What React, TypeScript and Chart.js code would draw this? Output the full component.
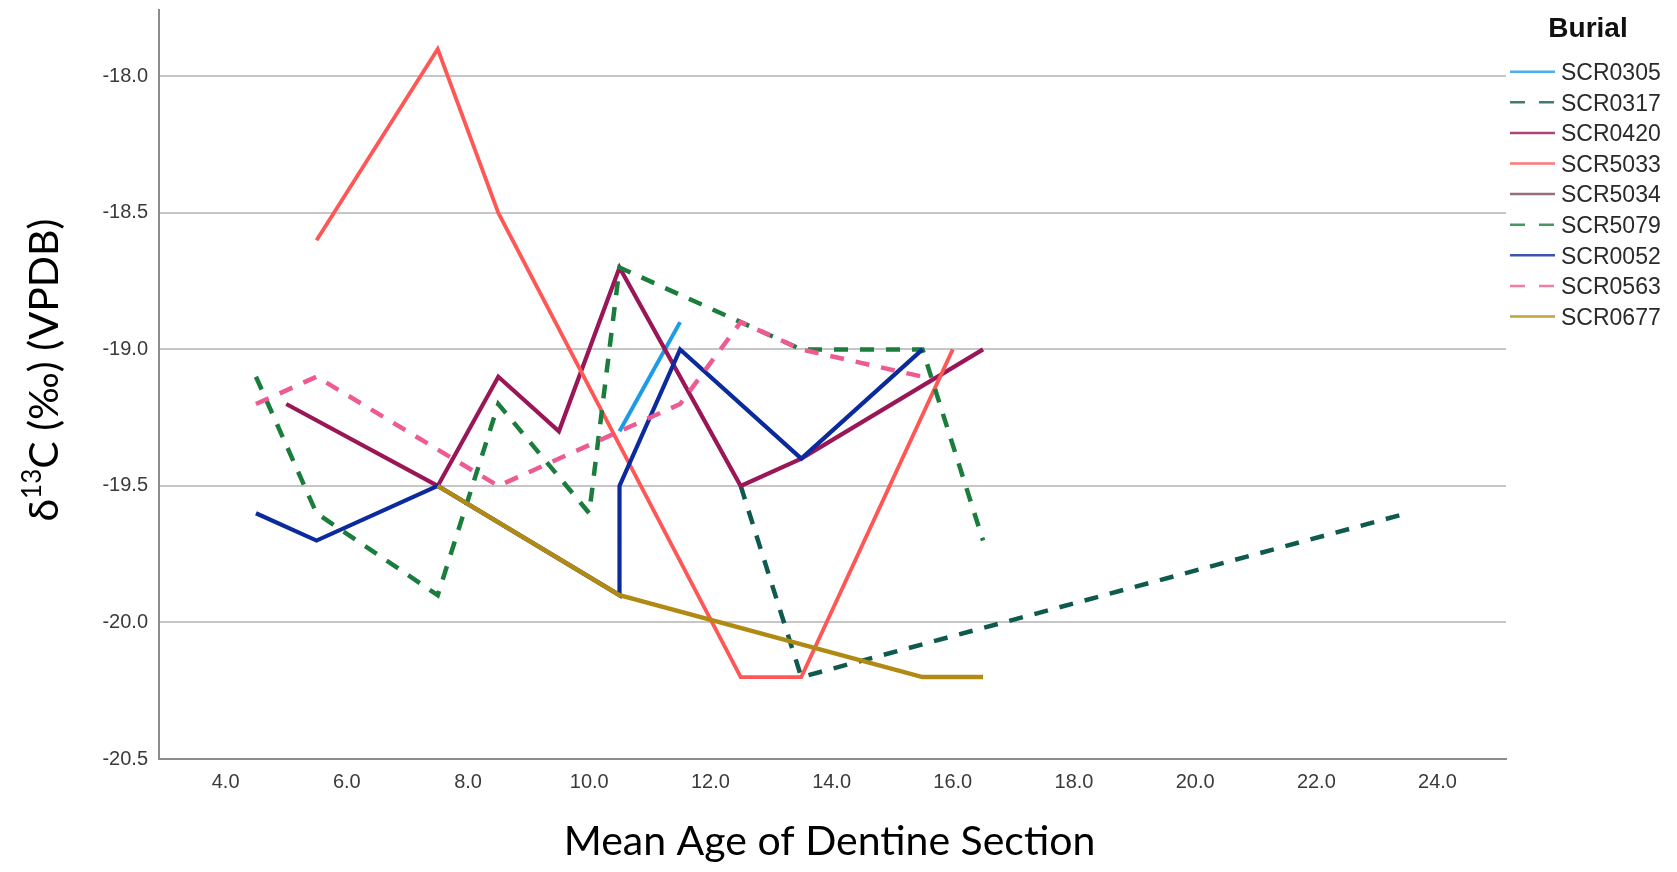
import React, { useEffect, useRef } from "react";
import { Chart, registerables } from "chart.js";

Chart.register(...registerables);

// ---- data ----
const burialNames = [
  "SCR0305",
  "SCR0317",
  "SCR0420",
  "SCR5033",
  "SCR5034",
  "SCR5079",
  "SCR0052",
  "SCR0563",
  "SCR0677",
];

const scr0305Age = [10.5, 11.5];
const scr0305C = [-19.3, -18.9];

const scr0317Age = [12.5, 13.5, 23.5];
const scr0317C = [-19.5, -20.2, -19.6];

const scr0420Age = [5.0, 7.5, 8.5, 9.5, 10.5, 12.5, 13.5, 16.5];
const scr0420C = [-19.2, -19.5, -19.1, -19.3, -18.7, -19.5, -19.4, -19.0];

const scr5033Age = [5.5, 7.5, 8.5, 12.5, 13.5, 16.0];
const scr5033C = [-18.6, -17.9, -18.5, -20.2, -20.2, -19.0];

const scr5034Age: number[] = [];
const scr5034C: number[] = [];

const scr5079Age = [4.5, 5.5, 7.5, 8.5, 10.0, 10.5, 13.5, 15.5, 16.5];
const scr5079C = [-19.1, -19.6, -19.9, -19.2, -19.6, -18.7, -19.0, -19.0, -19.7];

const scr0052Age = [4.5, 5.5, 7.5, 10.5, 10.5, 11.5, 13.5, 15.5];
const scr0052C = [-19.6, -19.7, -19.5, -19.9, -19.5, -19.0, -19.4, -19.0];

const scr0563Age = [4.5, 5.5, 8.5, 11.5, 12.5, 13.5, 15.5];
const scr0563C = [-19.2, -19.1, -19.5, -19.2, -18.9, -19.0, -19.1];

const scr0677Age = [7.5, 10.5, 15.5, 16.5];
const scr0677C = [-19.5, -19.9, -20.2, -20.2];

const seriesAges = [scr0305Age, scr0317Age, scr0420Age, scr5033Age, scr5034Age, scr5079Age, scr0052Age, scr0563Age, scr0677Age];
const seriesValues = [scr0305C, scr0317C, scr0420C, scr5033C, scr5034C, scr5079C, scr0052C, scr0563C, scr0677C];

const xTickValues = [4, 6, 8, 10, 12, 14, 16, 18, 20, 22, 24];
const yTickValues = [-20.5, -20.0, -19.5, -19.0, -18.5, -18.0];

const xTitle = "Mean Age of Dentine Section";

// ---- styles ----
const seriesColors = ["#1e9be6", "#0f5a4f", "#9a1657", "#ff5656", "#7d4a5a", "#1a7d3c", "#0a2a9e", "#ee5b93", "#b08a12"];
const seriesDashed = [false, true, false, false, false, true, false, true, false];
const seriesWidths = [4, 4.5, 4.2, 3.8, 4.2, 4.5, 4.2, 4.5, 4.5];

const FONT_SANS = "'Liberation Sans', Arial, sans-serif";
const FONT_TITLE = "Lato, 'Open Sans', sans-serif";

const legendPlugin = {
  id: "burialLegend",
  afterDraw(chart: any) {
    const ctx = chart.ctx as CanvasRenderingContext2D;
    ctx.save();
    ctx.fillStyle = "#111";
    ctx.font = `bold 28px ${FONT_SANS}`;
    ctx.textAlign = "center";
    ctx.textBaseline = "middle";
    ctx.fillText("Burial", 1588, 29);
    chart.data.datasets.forEach((ds: any, i: number) => {
      const y = 71.7 + i * 30.6;
      ctx.strokeStyle = ds.borderColor;
      ctx.globalAlpha = 0.8;
      ctx.lineWidth = 2.5;
      ctx.setLineDash(seriesDashed[i] ? [15, 14] : []);
      ctx.beginPath();
      ctx.moveTo(1510, y);
      ctx.lineTo(1555, y);
      ctx.stroke();
      ctx.setLineDash([]);
      ctx.globalAlpha = 1;
      ctx.fillStyle = "#2a2a2a";
      ctx.font = `23px ${FONT_SANS}`;
      ctx.textAlign = "left";
      ctx.fillText(ds.label, 1561, y + 2);
    });
    ctx.restore();
  },
};

const titlePlugin = {
  id: "axisTitles",
  afterDraw(chart: any) {
    const ctx = chart.ctx as CanvasRenderingContext2D;
    const area = chart.chartArea;
    ctx.save();
    ctx.fillStyle = "#000";
    ctx.textBaseline = "middle";
    // x title
    ctx.font = `41px ${FONT_TITLE}`;
    ctx.textAlign = "center";
    ctx.fillText(xTitle, (area.left + area.right) / 2 - 3, 842);
    // y title with superscript
    const big = `41px ${FONT_TITLE}`;
    const small = `26px ${FONT_TITLE}`;
    const p1 = "δ";
    const p2 = "13";
    const p3 = "C (‰) (VPDB)";
    ctx.font = big;
    const w1 = ctx.measureText(p1).width;
    const w3 = ctx.measureText(p3).width;
    ctx.font = small;
    const w2 = ctx.measureText(p2).width;
    const total = w1 + w2 + w3;
    ctx.translate(45, 370);
    ctx.rotate(-Math.PI / 2);
    ctx.textAlign = "left";
    let x = -total / 2;
    ctx.font = big;
    ctx.fillText(p1, x, 0);
    x += w1;
    ctx.font = small;
    ctx.fillText(p2, x, -12);
    x += w2;
    ctx.font = big;
    ctx.fillText(p3, x, 0);
    ctx.restore();
  },
};

export default function App() {
  const canvasRef = useRef<HTMLCanvasElement | null>(null);

  useEffect(() => {
    if (!canvasRef.current) return;
    const datasets = burialNames.map((name, i) => ({
      label: name,
      data: seriesAges[i].map((a, j) => ({ x: a, y: seriesValues[i][j] })),
      borderColor: seriesColors[i],
      backgroundColor: seriesColors[i],
      borderWidth: seriesWidths[i],
      borderDash: seriesDashed[i] ? [14, 12] : [],
      borderCapStyle: "butt" as const,
      borderJoinStyle: "miter" as const,
      pointRadius: 0,
      pointHoverRadius: 0,
      tension: 0,
      fill: false,
      order: -i,
    }));

    const chart = new Chart(canvasRef.current, {
      type: "line",
      data: { datasets },
      options: {
        animation: false,
        responsive: true,
        maintainAspectRatio: false,
        layout: { padding: { top: 10, right: 171, left: 0, bottom: 0 } },
        plugins: {
          legend: { display: false },
          tooltip: { enabled: false },
          title: { display: false },
        },
        scales: {
          x: {
            type: "linear",
            min: 2.9,
            max: 25.13,
            grid: { display: false, drawTicks: false },
            border: { display: true, color: "#8c8c8c", width: 2 },
            ticks: {
              autoSkip: false,
              maxRotation: 0,
              padding: 11,
              color: "#3a3a3a",
              font: { family: FONT_SANS, size: 20 },
              callback: (v: any) => Number(v).toFixed(1),
            },
            afterBuildTicks: (s: any) => {
              s.ticks = xTickValues.map((v) => ({ value: v }));
            },
            afterFit: (s: any) => {
              s.height = 113;
              s.paddingLeft = 0;
              s.paddingRight = 0;
            },
          },
          y: {
            type: "linear",
            min: -20.5,
            max: -17.757,
            grid: {
              drawTicks: false,
              lineWidth: 2,
              color: (c: any) => (c.tick && c.tick.value === -20.5 ? "rgba(0,0,0,0)" : "#c6c6c6"),
            },
            border: { display: true, color: "#8c8c8c", width: 2 },
            ticks: {
              padding: 11,
              color: "#3a3a3a",
              font: { family: FONT_SANS, size: 20 },
              callback: (v: any) => Number(v).toFixed(1),
            },
            afterBuildTicks: (s: any) => {
              s.ticks = yTickValues.map((v) => ({ value: v }));
            },
            afterFit: (s: any) => {
              s.width = 159;
              s.paddingTop = 0;
              s.paddingBottom = 0;
            },
          },
        },
      },
      plugins: [legendPlugin, titlePlugin],
    });
    return () => chart.destroy();
  }, []);

  return (
    <div style={{ position: "fixed", left: 0, top: 0, width: 1677, height: 872, background: "#fff" }}>
      <canvas ref={canvasRef} />
    </div>
  );
}
